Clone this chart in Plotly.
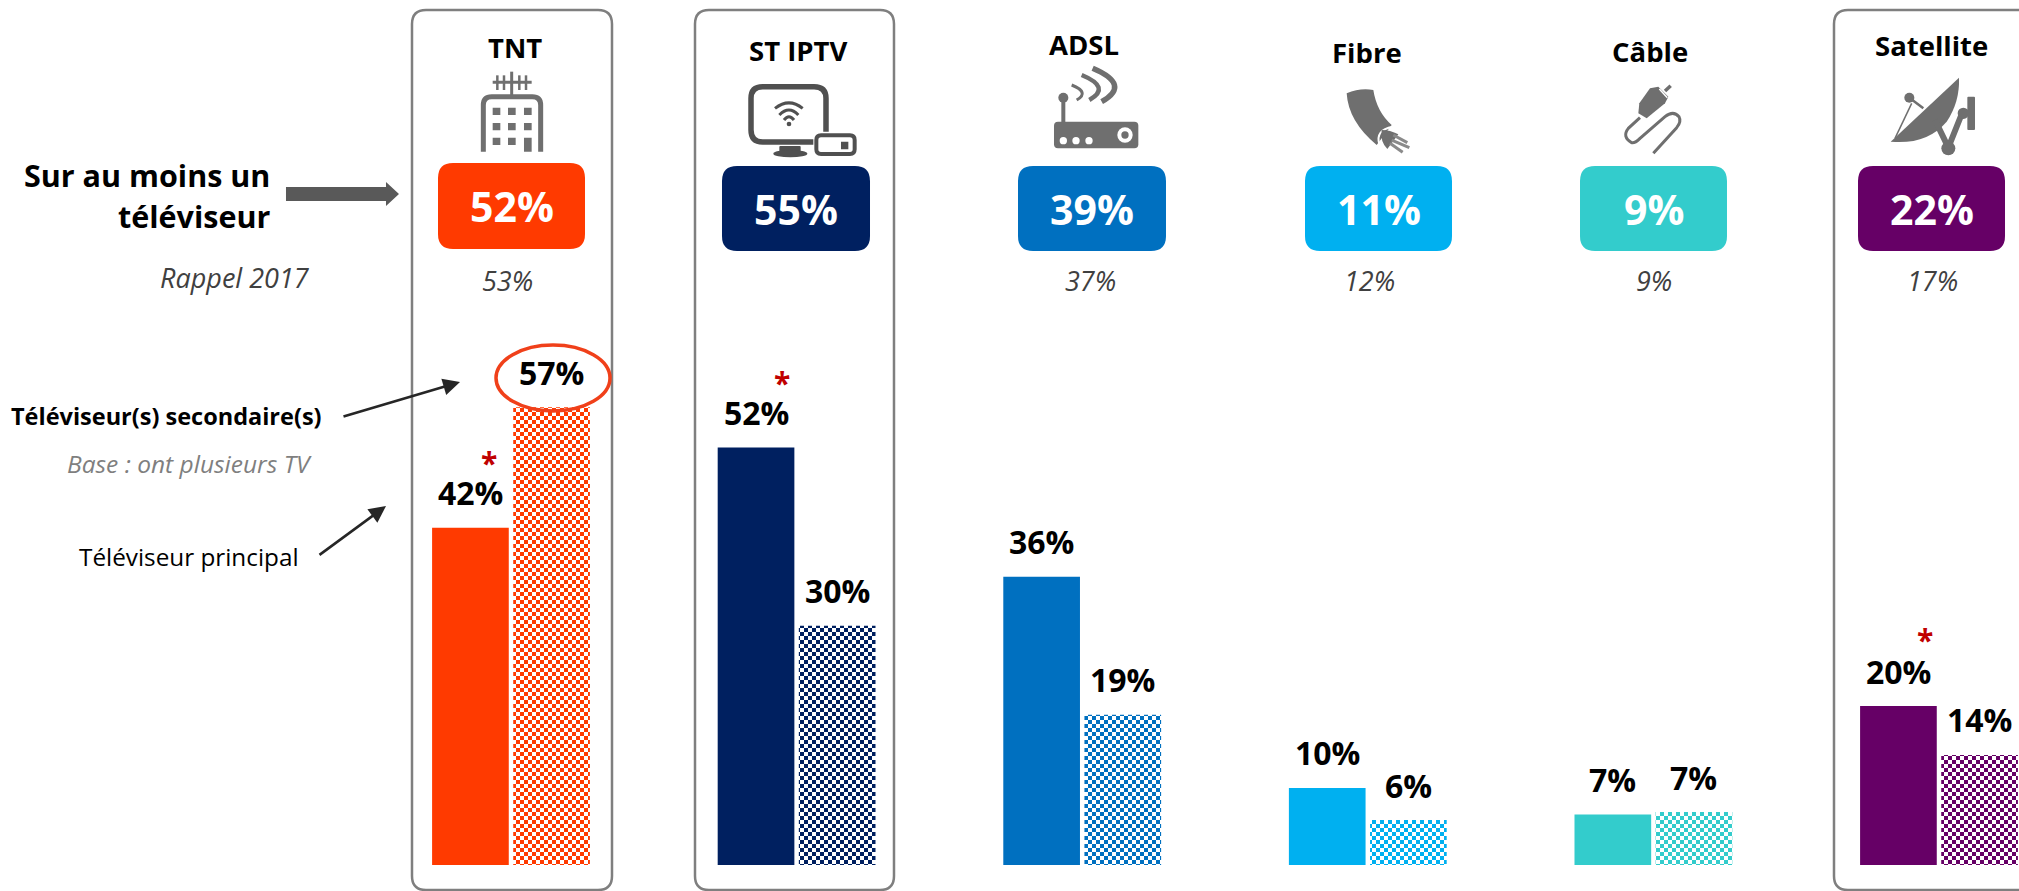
import re
import plotly.graph_objects as go

W, H = 2019, 891

categories = ["TNT", "ST IPTV", "ADSL", "Fibre", "Câble", "Satellite"]
principal = [42, 52, 35.9, 9.6, 6.3, 19.8]
secondaire = [57, 29.8, 18.7, 5.6, 6.6, 13.7]
principal_labels = ["42%", "52%", "36%", "10%", "7%", "20%"]
secondaire_labels = ["57%", "30%", "19%", "6%", "7%", "14%"]
totals = ["52%", "55%", "39%", "11%", "9%", "22%"]
rappel_2017 = ["53%", None, "37%", "12%", "9%", "17%"]
colors = ["#FF3A00", "#002060", "#0070C0", "#00B0F0", "#33CCCC", "#660066"]

FONT = "Open Sans"
ICON = "#6F6F6F"
DARK = "#505050"

# page geometry (pixels)
title_pos = [(515, 48), (798, 51), (1084, 45), (1367, 53), (1650, 52), (1931, 46)]
total_box = [(438, 585, 163, 249), (722, 870, 166, 251), (1018, 1166, 166, 251),
             (1305, 1452, 166, 251), (1580, 1727, 166, 251), (1858, 2005, 166, 251)]
rappel_pos = [(507, 280), None, (1090, 280), (1369, 280), (1654, 280), (1932, 280)]
frames = [(412, 612), (695, 894), (1834, 2040)]
stars = [(489, 462), (782, 382), (1925, 639)]

BASE_PX, PX_PER_PCT = 865, 8.03
BAND, CENTER0 = 285.6, 511
LABEL_DX, LABEL_DY = 40.5, 35


def conv(path, ox=0, oy=0, k=1.0):
    def f(m):
        x = ox + float(m.group(1)) * k
        y = oy + float(m.group(2)) * k
        return f"{x / W:.5f},{1 - y / H:.5f}"
    return re.sub(r"(-?[\d.]+),(-?[\d.]+)", f, path)


shapes = []


def path(d, ox=0, oy=0, k=1.0, fill=None, line=None, width=0, layer="above"):
    shapes.append(dict(type="path", xref="paper", yref="paper", layer=layer,
                       path=conv(d, ox, oy, k),
                       fillcolor=fill if fill else "rgba(0,0,0,0)",
                       line=dict(color=line if line else "rgba(0,0,0,0)", width=width)))


def rrect(x0, x1, y0, y1, r):
    return (f"M {x0 + r},{y0} L {x1 - r},{y0} Q {x1},{y0} {x1},{y0 + r} L {x1},{y1 - r} "
            f"Q {x1},{y1} {x1 - r},{y1} L {x0 + r},{y1} Q {x0},{y1} {x0},{y1 - r} "
            f"L {x0},{y0 + r} Q {x0},{y0} {x0 + r},{y0} Z")


def circle(cx, cy, r, ox=0, oy=0, k=1.0, fill=ICON, rx=None):
    rx = r if rx is None else rx
    shapes.append(dict(type="circle", xref="paper", yref="paper", layer="above",
                       x0=(ox + (cx - rx) * k) / W, x1=(ox + (cx + rx) * k) / W,
                       y0=1 - (oy + (cy + r) * k) / H, y1=1 - (oy + (cy - r) * k) / H,
                       fillcolor=fill, line=dict(width=0)))


# frames around TNT, ST IPTV, Satellite
for x0, x1 in frames:
    path(rrect(x0, x1, 10, 890, 14), line="#7F7F7F", width=2.5, layer="below")

# coloured total boxes
for (x0, x1, y0, y1), c in zip(total_box, colors):
    path(rrect(x0, x1, y0, y1, 15), fill=c)

# --- icons, written in the coordinates of 3x crops ---
# TNT
o = (470, 60, 1 / 3)
path("M 125,35 L 125,105", *o, line=ICON, width=3)
path("M 68,67 L 185,67", *o, line=ICON, width=3)
for x in (82, 102, 148, 168):
    path(f"M {x},46 L {x},90", *o, line=ICON, width=2.5)
path("M 40,275 L 40,135 Q 40,110 65,110 L 187,110 Q 212,110 212,135 L 212,275", *o, line=ICON, width=5)
for x, y in [(68, 143), (114, 143), (162, 143), (68, 189), (114, 189), (162, 189), (68, 233), (114, 233)]:
    path(rrect(x, x + 23, y, y + 22, 0.1), *o, fill=ICON)
path(rrect(162, 185, 233, 275, 0.1), *o, fill=ICON)

# ST IPTV
o = (740, 70, 1 / 3)
path("M 258,185 L 258,85 Q 258,50 222,50 L 68,50 Q 33,50 33,85 L 33,180 Q 33,216 68,216 L 220,216", *o, line=DARK, width=5.5)
path(rrect(118, 182, 228, 245, 3), *o, fill=DARK)
circle(151, 251, 11, *o, fill=DARK, rx=51)
path(rrect(229, 344, 196, 252, 14), *o, fill="#FFFFFF", line=DARK, width=4)
path(rrect(303, 325, 215, 238, 0.1), *o, fill=DARK)
path("M 105,115 Q 147,82 188,115", *o, line=DARK, width=3)
path("M 118,135 Q 147,105 175,135", *o, line=DARK, width=3)
path("M 132,150 Q 147,130 162,150", *o, line=DARK, width=3)
circle(147, 162, 7, *o, fill=DARK)

# ADSL
o = (1040, 60, 1 / 3)
path(rrect(42, 295, 185, 265, 12), *o, fill=ICON)
for x in (70, 108, 147):
    circle(x, 242, 11, *o, fill="#FFFFFF")
circle(255, 225, 23, *o, fill="#FFFFFF")
circle(255, 225, 11, *o, fill=ICON)
path("M 70,115 L 70,187", *o, line=ICON, width=4)
circle(70, 113, 15, *o)
path("M 95,75 Q 150,97 110,120", *o, line=ICON, width=3)
path("M 125,45 Q 215,82 148,120", *o, line=ICON, width=4.5)
path("M 158,25 Q 275,75 185,125", *o, line=ICON, width=5.5)

# Fibre
o = (1330, 75, 1 / 3)
path("M 50,55 Q 90,38 130,45 Q 140,110 185,150 L 140,210 Q 55,140 50,55 Z", *o, fill=ICON)
path("M 188,155 Q 135,165 148,208", *o, line="#FFFFFF", width=2)
path("M 155,165 Q 180,165 205,178 L 172,222 Q 150,200 155,165 Z", *o, fill=ICON)
for x0, y0, x1, y1 in [(190, 180, 232, 203), (185, 195, 238, 218), (180, 205, 218, 232)]:
    path(f"M {x0},{y0} L {x1},{y1}", *o, line="#8A8A8A", width=3)

# Cable
o = (1610, 75, 1 / 3)
path("M 120,40 L 145,35 L 175,65 L 165,85 L 110,130 L 85,115 L 88,85 Z", *o, fill=ICON)
path("M 148,42 L 172,68", *o, line="#FFFFFF", width=1.5)
path("M 165,48 L 182,32", *o, line=ICON, width=3.5)
path("M 90,128 L 55,160 Q 35,185 65,203 Q 75,205 90,190 L 165,125 Q 190,105 207,125 Q 215,140 200,158 L 130,235",
     *o, line=ICON, width=3)

# Satellite
o = (1880, 75, 1 / 3)
path("M 237,8 L 32,200 Q 140,210 200,140 Q 240,80 237,8 Z", *o, fill=ICON)
circle(88, 68, 15, *o)
path("M 88,68 L 130,100", *o, line=ICON, width=2.5)
path("M 95,85 L 45,190", *o, line=ICON, width=1.5)
path("M 165,135 L 205,218 L 250,105", *o, line=ICON, width=6)
circle(205, 220, 21, *o)
circle(250, 115, 17, *o)
path(rrect(262, 285, 65, 165, 3), *o, fill=ICON)

# big arrow beside "Sur au moins un téléviseur"
path("M 286,187 L 386,187 L 386,182 L 399,194 L 386,206 L 386,201 L 286,201 Z", fill="#595959")

# ellipse round 57%
shapes.append(dict(type="circle", xref="paper", yref="paper", layer="above",
                   x0=(553 - 57) / W, x1=(553 + 57) / W,
                   y0=1 - (378 + 33) / H, y1=1 - (378 - 33) / H,
                   line=dict(color="#F0401A", width=3.5), fillcolor="rgba(0,0,0,0)"))

annotations = []


def txt(t, x, y, size, color="#000000", bold=False, italic=False, anchor="center"):
    if bold:
        t = f"<b>{t}</b>"
    if italic:
        t = f"<i>{t}</i>"
    annotations.append(dict(text=t, x=x / W, y=1 - y / H, xref="paper", yref="paper",
                            showarrow=False, xanchor=anchor, yanchor="middle",
                            font=dict(family=FONT, size=size, color=color)))


for c, (x, y) in zip(categories, title_pos):
    txt(c, x, y, 27.5, bold=True)
for t, (x0, x1, y0, y1) in zip(totals, total_box):
    txt(t, (x0 + x1) / 2, (y0 + y1) / 2, 41, color="#FFFFFF", bold=True)
for t, p in zip(rappel_2017, rappel_pos):
    if t:
        txt(t, p[0], p[1], 27, color="#404040", italic=True)
for x, y in stars:
    txt("*", x, y, 30, color="#C00000", bold=True)

txt("Sur au moins un", 272, 175, 30.5, bold=True, anchor="right")
txt("téléviseur", 272, 216, 30.5, bold=True, anchor="right")
txt("Rappel 2017", 312, 277, 27, color="#404040", italic=True, anchor="right")
txt("Téléviseur(s) secondaire(s)", 324, 416, 23.5, bold=True, anchor="right")
txt("Base : ont plusieurs TV", 314, 464, 24.5, color="#7F7F7F", italic=True, anchor="right")
txt("Téléviseur principal", 301, 556, 24.3, anchor="right")


def arrow(x0, y0, x1, y1):
    annotations.append(dict(text="", x=x1 / W, y=1 - y1 / H, xref="paper", yref="paper",
                            ax=x0 - x1, ay=y0 - y1, axref="pixel", ayref="pixel",
                            showarrow=True, arrowhead=2, arrowsize=1.3, arrowwidth=2.6,
                            arrowcolor="#262626"))


arrow(342, 417, 460, 382)
arrow(318, 556, 386, 506)

# value labels, placed through the axes
for cat, v, t in zip(categories, principal, principal_labels):
    annotations.append(dict(text=f"<b>{t}</b>", x=cat, y=v, xref="x", yref="y", showarrow=False,
                            xshift=-LABEL_DX, yshift=LABEL_DY, yanchor="middle", xanchor="center",
                            font=dict(family=FONT, size=32, color="#000000")))
for cat, v, t in zip(categories, secondaire, secondaire_labels):
    annotations.append(dict(text=f"<b>{t}</b>", x=cat, y=v, xref="x", yref="y", showarrow=False,
                            xshift=LABEL_DX, yshift=LABEL_DY, yanchor="middle", xanchor="center",
                            font=dict(family=FONT, size=32, color="#000000")))

fig = go.Figure()
fig.add_bar(name="Téléviseur principal", x=categories, y=principal,
            marker=dict(color=colors, line=dict(width=0)))
fig.add_bar(name="Téléviseur(s) secondaire(s)", x=categories, y=secondaire,
            marker=dict(color="#FFFFFF", line=dict(width=0),
                        pattern=dict(shape=".", size=8, solidity=0.3, fgcolor=colors,
                                     bgcolor="#FFFFFF", fillmode="replace")))

fig.update_layout(
    width=W, height=H, autosize=False, margin=dict(l=0, r=0, t=0, b=0),
    paper_bgcolor="#FFFFFF", plot_bgcolor="rgba(0,0,0,0)", showlegend=False,
    barmode="group", bargap=0.4318, bargroupgap=0.055,
    shapes=shapes, annotations=annotations,
    xaxis=dict(type="category", categoryorder="array", categoryarray=categories,
               range=[(0 - CENTER0) / BAND, (W - CENTER0) / BAND], visible=False),
    yaxis=dict(range=[(BASE_PX - H) / PX_PER_PCT, BASE_PX / PX_PER_PCT], visible=False),
)

post = """
document.body.style.margin = '0';
document.documentElement.style.overflow = 'hidden';
document.querySelectorAll('pattern').forEach(function (p) {
  var c = p.querySelector('circle'); if (!c) return;
  var fg = c.style.fill || c.getAttribute('fill');
  var NS = 'http://www.w3.org/2000/svg';
  while (p.firstChild) p.removeChild(p.firstChild);
  [[0,0,8,8,'#FFFFFF'],[0,0,4,4,fg],[4,4,4,4,fg]].forEach(function (r) {
    var e = document.createElementNS(NS,'rect');
    e.setAttribute('x',r[0]); e.setAttribute('y',r[1]);
    e.setAttribute('width',r[2]); e.setAttribute('height',r[3]);
    e.style.fill = r[4]; p.appendChild(e);
  });
});
"""
fig.write_html("out.html", post_script=post, config=dict(displayModeBar=False))
